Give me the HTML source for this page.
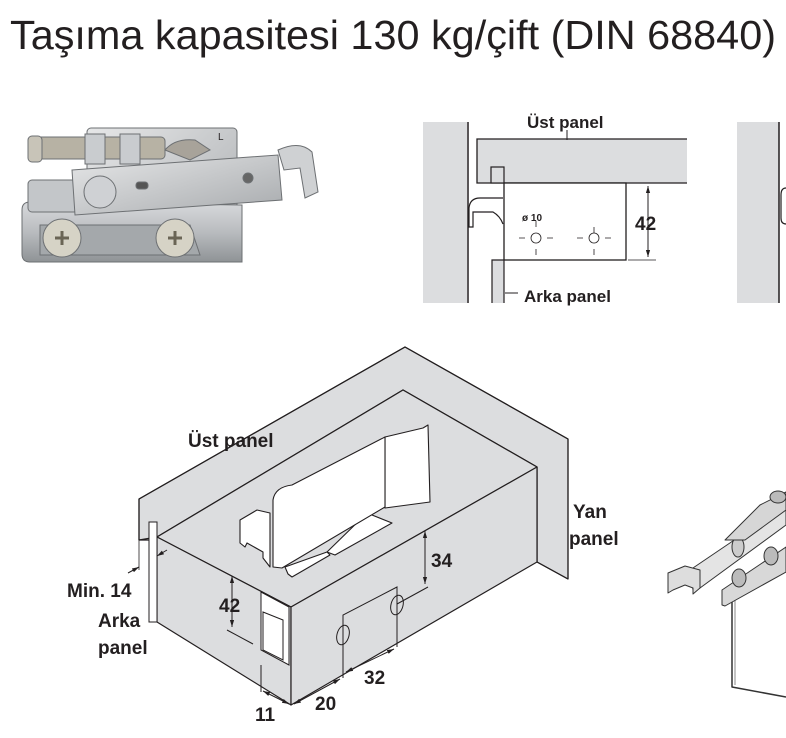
<!DOCTYPE html>
<html><head><meta charset="utf-8"><style>
html,body{margin:0;padding:0;background:#fff;}
svg{display:block;}
text{font-family:"Liberation Sans",Arial,sans-serif;fill:#231f20;}
.b{font-weight:bold;font-size:17px;}
.c{font-weight:bold;font-size:19px;}
</style></head><body>
<svg width="786" height="738" viewBox="0 0 786 738" xmlns="http://www.w3.org/2000/svg">
<defs>
<linearGradient id="m" x1="0" y1="0" x2="0" y2="1"><stop offset="0" stop-color="#d8dadc"/><stop offset="0.5" stop-color="#b9bcbf"/><stop offset="1" stop-color="#8f9396"/></linearGradient>
<linearGradient id="m2" x1="0" y1="0" x2="1" y2="1"><stop offset="0" stop-color="#e6e7e8"/><stop offset="1" stop-color="#a7aaad"/></linearGradient>
<marker id="ar" viewBox="0 0 10 10" refX="10" refY="5" markerWidth="7" markerHeight="7" orient="auto-start-reverse"><path d="M0,2 L10,5 L0,8 z" fill="#231f20"/></marker>
</defs>
<text x="10" y="49" font-size="41" textLength="766" lengthAdjust="spacingAndGlyphs">Taşıma kapasitesi 130 kg/çift (DIN 68840)</text>

<!-- photo -->
<g stroke="#6d7073" stroke-width="1">
<rect x="87" y="128" width="150" height="134" rx="4" fill="url(#m2)"/>
<path d="M22,210 Q22,202 30,202 L242,205 L242,262 L30,262 Q22,262 22,254 z" fill="url(#m)"/>
<rect x="30" y="137" width="135" height="22" rx="4" fill="#b7b2a4"/>
<rect x="28" y="136" width="14" height="26" rx="4" fill="#c8c4b8"/>
<rect x="85" y="134" width="20" height="30" fill="#c9cccf"/>
<rect x="120" y="134" width="20" height="30" fill="#c9cccf"/>
<path d="M165,150 Q175,138 195,140 L210,150 L190,160 z" fill="#a8a39a"/>
<rect x="28" y="180" width="50" height="32" rx="4" fill="#c3c6c9"/>
<polygon points="72,170 278,155 282,200 75,215" fill="url(#m2)"/>
<path d="M278,150 Q300,140 312,152 L318,192 L305,198 L300,168 L284,170 z" fill="#cfd1d3"/>
<circle cx="100" cy="192" r="16" fill="#cfd1d4"/>
<rect x="136" y="182" width="12" height="7" rx="3" fill="#555"/>
<circle cx="248" cy="178" r="5" fill="#666"/>
<path d="M40,225 L190,225 L200,255 L40,255 z" fill="#a4a8ab"/>
<circle cx="62" cy="238" r="19" fill="#d6d3c6"/>
<circle cx="175" cy="238" r="19" fill="#d6d3c6"/>
</g>
<path d="M55,238 h14 M62,231 v14 M168,238 h14 M175,231 v14" stroke="#6a6555" stroke-width="3"/>
<text x="218" y="140" font-size="10" fill="#777">L</text>

<!-- top right section -->
<rect x="423" y="122" width="44" height="181" fill="#dcdddf"/>
<line x1="468" y1="122" x2="468" y2="303" stroke="#231f20" stroke-width="1.5"/>
<rect x="477" y="139" width="210" height="44" fill="#dcdddf"/>
<path d="M687,139 H477 V183 H687" fill="none" stroke="#231f20" stroke-width="1.3"/>
<rect x="504" y="183" width="122" height="77" fill="#fff" stroke="#231f20" stroke-width="1.3"/>
<rect x="491" y="167" width="13" height="16" fill="#dcdddf" stroke="#231f20" stroke-width="1.2"/>
<rect x="492" y="260" width="12" height="43" fill="#dcdddf"/>
<path d="M492,303 V260 H504 V303" fill="none" stroke="#231f20" stroke-width="1.2"/>
<path d="M503,198 H480 Q470,198 469,208 V227 H473 V212 H493 Q500,216 503,224" fill="none" stroke="#231f20" stroke-width="1.2"/>
<line x1="567" y1="130" x2="567" y2="140" stroke="#231f20"/>
<text x="527" y="128" class="b">Üst panel</text>
<line x1="505" y1="293" x2="518" y2="293" stroke="#231f20"/>
<text x="524" y="302" class="b">Arka panel</text>
<text x="522" y="221" font-size="10" font-weight="bold">ø 10</text>
<g stroke="#231f20" stroke-width="0.8" fill="none">
<circle cx="536" cy="238" r="5"/><circle cx="594" cy="238" r="5"/>
<path d="M519,238h6M547,238h6M536,221v6M536,249v6M577,238h6M605,238h6M594,227v6M594,249v6" />
</g>
<line x1="628" y1="183" x2="656" y2="183" stroke="#231f20" stroke-width="0.8"/>
<line x1="628" y1="260" x2="656" y2="260" stroke="#231f20" stroke-width="0.8"/>
<line x1="648" y1="186" x2="648" y2="257" stroke="#231f20" stroke-width="1" marker-start="url(#ar)" marker-end="url(#ar)"/>
<text x="635" y="230" class="c">42</text>
<rect x="737" y="122" width="42" height="181" fill="#dcdddf"/>
<line x1="779" y1="122" x2="779" y2="303" stroke="#231f20" stroke-width="1.5"/>
<path d="M786,188 Q781,188 781,195 V218 Q781,224 786,224" fill="none" stroke="#231f20" stroke-width="1.2"/>

<!-- isometric box -->
<g stroke="#231f20" stroke-width="1.2" stroke-linejoin="round">
<polygon points="139,499 405,347 568,439 568,579 537,562 537,467 403,390 157,537 139,540" fill="#dcdddf"/>
<polyline points="139,540 139,499 405,347 568,439 568,579" fill="none"/>
<polyline points="157,537 403,390 537,467 537,562 568,579" fill="none"/>
<polygon points="157,537 403,390 537,467 291,607" fill="#dcdddf"/>
<polygon points="157,537 291,607 291,705 157,622" fill="#dcdddf"/>
<polygon points="291,607 537,467 537,562 291,705" fill="#dcdddf"/>
<line x1="139" y1="540" x2="157" y2="540" />
</g>
<rect x="149" y="522" width="8" height="100" fill="#fff" stroke="#231f20" stroke-width="1"/>
<line x1="139" y1="540" x2="139" y2="570" stroke="#231f20" stroke-width="0.8"/>
<!-- bracket -->
<g stroke="#231f20" stroke-width="1.1" fill="#fff" stroke-linejoin="round">
<polygon points="367,513 392,523 335,555 327,552"/>
<polygon points="285,567 327,552 330,555 292,577 288,574"/>
<polygon points="240,520 257,510 270,513 270,567 263,558 263,552 247,543 245,547 240,543"/>
<polygon points="385,437 423,428 428,425 430,502 385,508"/>
<path d="M273,567 V500 Q275,487 292,485 L385,437 V507 L282,568 z"/>
</g>
<g stroke="#231f20" stroke-width="1" fill="#fff">
<polygon points="261,592 289,607 289,665 261,650"/>
<polygon points="263,612 283,620 283,660 263,650"/>
</g>
<g stroke="#231f20" stroke-width="1" fill="none">
<ellipse cx="397" cy="605" rx="6" ry="10" transform="rotate(15 397 605)"/>
<ellipse cx="343" cy="635" rx="6" ry="10" transform="rotate(15 343 635)"/>
<polyline points="343,678 343,615 397,587 397,647"/>
<line x1="397" y1="604" x2="428" y2="587"/>
<line x1="227" y1="630" x2="253" y2="644"/>
<line x1="261" y1="665" x2="261" y2="692"/>
</g>
<g stroke="#231f20" stroke-width="1" fill="none">
<line x1="425" y1="531" x2="425" y2="584" marker-start="url(#ar)" marker-end="url(#ar)"/>
<line x1="232" y1="576" x2="232" y2="627" marker-start="url(#ar)" marker-end="url(#ar)"/>
<line x1="346" y1="672" x2="394" y2="649" marker-start="url(#ar)" marker-end="url(#ar)"/>
<line x1="294" y1="704" x2="340" y2="679" marker-start="url(#ar)" marker-end="url(#ar)"/>
<line x1="263" y1="691" x2="289" y2="704" marker-start="url(#ar)" marker-end="url(#ar)"/>
<line x1="128" y1="573" x2="139" y2="567" marker-end="url(#ar)"/>
<line x1="167" y1="550" x2="157" y2="556" marker-end="url(#ar)"/>
</g>
<text x="188" y="447" class="c">Üst panel</text>
<text x="573" y="518" class="c">Yan</text>
<text x="569" y="545" class="c">panel</text>
<text x="67" y="597" class="c">Min. 14</text>
<text x="98" y="627" class="c">Arka</text>
<text x="98" y="654" class="c">panel</text>
<text x="431" y="567" class="c">34</text>
<text x="219" y="612" class="c">42</text>
<text x="364" y="684" class="c">32</text>
<text x="315" y="710" class="c">20</text>
<text x="255" y="721" class="c">11</text>

<!-- bottom right runner -->
<g stroke="#333" stroke-width="1" fill="#f4f4f4" stroke-linejoin="round">
<polyline points="732,598 732,687 786,697" fill="none" stroke-width="1.5"/>
<line x1="735" y1="598" x2="735" y2="685" stroke="#888"/>
<polygon points="690,570 786,505 786,525 700,588 693,590" fill="#e4e4e4"/>
<polygon points="722,590 786,547 786,572 725,606 722,605" fill="#d8d8d8"/>
<path d="M668,573 L685,566 L700,570 L700,588 L693,594 L693,588 L685,585 L673,590 L668,593 z" fill="#ddd"/>
<ellipse cx="739" cy="578" rx="7" ry="9" fill="#bbb"/>
<ellipse cx="771" cy="556" rx="7" ry="9" fill="#bbb"/>
<ellipse cx="738" cy="547" rx="6" ry="10" fill="#ccc"/>
<path d="M725,540 L760,505 L786,492 L786,510 L745,540 z" fill="#d6d6d6"/>
<ellipse cx="778" cy="497" rx="8" ry="6" fill="#bbb"/>
</g>
</svg>
</body></html>
